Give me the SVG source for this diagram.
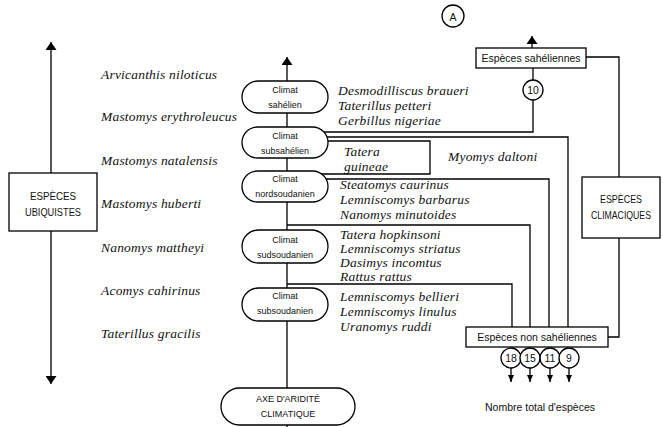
<svg xmlns="http://www.w3.org/2000/svg" width="663" height="427" viewBox="0 0 663 427">
<style>
.ln{fill:none;stroke:#000;stroke-width:1.3}
.bx{fill:#fff;stroke:#000;stroke-width:1.3}
.it{font-family:"Liberation Serif",serif;font-style:italic;font-size:13.5px;letter-spacing:0.2px;fill:#111}
.sm{font-family:"Liberation Sans",sans-serif;font-size:9px;fill:#111;text-anchor:middle}
.lb{font-family:"Liberation Sans",sans-serif;font-size:10.5px;fill:#111;text-anchor:middle}
.cap{font-family:"Liberation Sans",sans-serif;font-size:10.5px;fill:#111;text-anchor:middle}
</style>
<defs>
<marker id="ah" viewBox="0 0 10 10" refX="10" refY="5" markerWidth="8" markerHeight="11" markerUnits="userSpaceOnUse" orient="auto-start-reverse" preserveAspectRatio="none"><path d="M0,0 L10,5 L0,10 z" fill="#000"/></marker>
<marker id="ahs" viewBox="0 0 10 10" refX="10" refY="5" markerWidth="7" markerHeight="6" markerUnits="userSpaceOnUse" orient="auto" preserveAspectRatio="none"><path d="M0,0 L10,5 L0,10 z" fill="#000"/></marker>
</defs>

<g id="connectors">
<line class="ln" x1="51" y1="42" x2="51" y2="384" marker-start="url(#ah)" marker-end="url(#ah)"/>
<line class="ln" x1="287" y1="427" x2="287" y2="57" marker-end="url(#ah)"/>
<line class="ln" x1="532" y1="48" x2="532" y2="36" marker-end="url(#ah)"/>
<polyline class="ln" points="300,132 533,132 533,100"/>
<line class="ln" x1="533" y1="80" x2="533" y2="68"/>
<polyline class="ln" points="300,137 568,137 568,327"/>
<polyline class="ln" points="300,141 430,141 430,174 300,174"/>
<polyline class="ln" points="300,179 549,179 549,327"/>
<polyline class="ln" points="287,225 530,225 530,327"/>
<polyline class="ln" points="287,284 512,284 512,327"/>
<polyline class="ln" points="586,57 619,57 619,177"/>
<polyline class="ln" points="619,238 619,337 608,337"/>
<line class="ln" x1="511" y1="368" x2="511" y2="382" marker-end="url(#ahs)"/>
<line class="ln" x1="530" y1="368" x2="530" y2="382" marker-end="url(#ahs)"/>
<line class="ln" x1="550" y1="368" x2="550" y2="382" marker-end="url(#ahs)"/>
<line class="ln" x1="569" y1="368" x2="569" y2="382" marker-end="url(#ahs)"/>
</g>

<g id="label-A"><circle class="bx" cx="453" cy="16" r="11"/><text class="lb" x="453" y="21" font-size="13">A</text></g>

<g id="ubiquistes"><rect class="bx" x="9" y="173" width="88" height="58"/>
<text class="lb" x="53" y="200" textLength="46" lengthAdjust="spacingAndGlyphs">ESPÈCES</text>
<text class="lb" x="53" y="216" textLength="56" lengthAdjust="spacingAndGlyphs">UBIQUISTES</text></g>

<g id="climaciques"><rect class="bx" x="582" y="177" width="78" height="61"/>
<text class="lb" x="621" y="203" textLength="42" lengthAdjust="spacingAndGlyphs">ESPÈCES</text>
<text class="lb" x="621" y="219" textLength="60" lengthAdjust="spacingAndGlyphs">CLIMACIQUES</text></g>

<g id="sahel-box"><rect class="bx" x="476" y="48" width="110" height="20"/><text class="lb" x="531" y="62">Espèces sahéliennes</text></g>
<g id="nonsahel-box"><rect class="bx" x="466" y="327" width="142" height="20"/><text class="lb" x="537" y="341">Espèces non sahéliennes</text></g>

<g id="c10"><circle class="bx" cx="533" cy="90" r="10"/><text class="lb" x="533" y="94">10</text></g>
<g id="c18"><circle class="bx" cx="511" cy="358" r="10"/><text class="lb" x="511" y="362">18</text></g>
<g id="c15"><circle class="bx" cx="530" cy="358" r="10"/><text class="lb" x="530" y="362">15</text></g>
<g id="c11"><circle class="bx" cx="550" cy="358" r="10"/><text class="lb" x="550" y="362">11</text></g>
<g id="c9"><circle class="bx" cx="569" cy="358" r="10"/><text class="lb" x="569" y="362">9</text></g>

<g id="sahelien"><rect class="bx" x="242" y="81" width="86" height="32" rx="16"/><text class="sm" x="285" y="93">Climat</text><text class="sm" x="285" y="108">sahélien</text></g>
<g id="subsahelien"><rect class="bx" x="242" y="127" width="86" height="31" rx="15.5"/><text class="sm" x="285" y="139">Climat</text><text class="sm" x="285" y="154">subsahélien</text></g>
<g id="nordsoudanien"><rect class="bx" x="242" y="171" width="86" height="31" rx="15.5"/><text class="sm" x="285" y="182">Climat</text><text class="sm" x="285" y="197">nordsoudanien</text></g>
<g id="sudsoudanien"><rect class="bx" x="242" y="230" width="86" height="33" rx="16.5"/><text class="sm" x="285" y="243">Climat</text><text class="sm" x="285" y="258">sudsoudanien</text></g>
<g id="subsoudanien"><rect class="bx" x="242" y="288" width="86" height="33" rx="16.5"/><text class="sm" x="285" y="299">Climat</text><text class="sm" x="285" y="314">subsoudanien</text></g>
<g id="axe"><rect class="bx" x="221" y="388" width="134" height="37" rx="18.5"/><text class="sm" x="288" y="402" font-size="10">AXE D'ARIDITÉ</text><text class="sm" x="288" y="417" font-size="10">CLIMATIQUE</text></g>

<g id="left-species">
<text class="it" x="101" y="79">Arvicanthis niloticus</text>
<text class="it" x="101" y="121">Mastomys erythroleucus</text>
<text class="it" x="101" y="165">Mastomys natalensis</text>
<text class="it" x="101" y="208">Mastomys huberti</text>
<text class="it" x="101" y="252">Nanomys mattheyi</text>
<text class="it" x="101" y="295">Acomys cahirinus</text>
<text class="it" x="101" y="338">Taterillus gracilis</text>
</g>

<g id="right-species">
<text class="it" x="338" y="95">Desmodilliscus braueri</text>
<text class="it" x="338" y="110">Taterillus petteri</text>
<text class="it" x="338" y="125">Gerbillus nigeriae</text>
<text class="it" x="344" y="156">Tatera</text>
<text class="it" x="344" y="171">guineae</text>
<text class="it" x="448" y="161">Myomys daltoni</text>
<text class="it" x="340" y="189">Steatomys caurinus</text>
<text class="it" x="340" y="204">Lemniscomys barbarus</text>
<text class="it" x="340" y="219">Nanomys minutoides</text>
<text class="it" x="340" y="239">Tatera hopkinsoni</text>
<text class="it" x="340" y="253">Lemniscomys striatus</text>
<text class="it" x="340" y="267">Dasimys incomtus</text>
<text class="it" x="340" y="281">Rattus rattus</text>
<text class="it" x="340" y="301">Lemniscomys bellieri</text>
<text class="it" x="340" y="316">Lemniscomys linulus</text>
<text class="it" x="340" y="331">Uranomys ruddi</text>
</g>

<text class="cap" x="540" y="411">Nombre total d'espèces</text>
</svg>
